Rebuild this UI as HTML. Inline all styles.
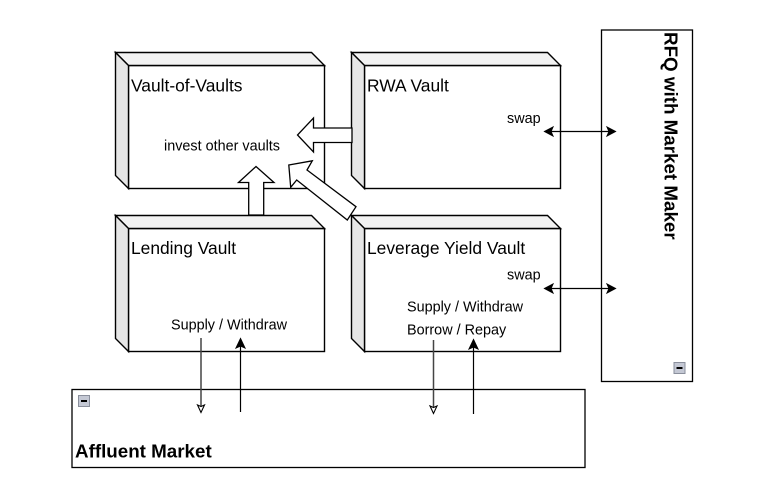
<!DOCTYPE html>
<html><head><meta charset="utf-8">
<style>
html,body{margin:0;padding:0;background:#fff;width:783px;height:491px;overflow:hidden}
svg{display:block}
text{font-family:"Liberation Sans",Arial,sans-serif;fill:#000}
.t{font-size:17.4px}
.s{font-size:14.4px}
.b{font-size:18.8px;font-weight:bold}
</style></head><body>
<svg width="783" height="491" viewBox="0 0 783 491" xmlns="http://www.w3.org/2000/svg">
<defs>
<g id="cube" stroke="#000" stroke-width="1.4" stroke-linejoin="miter">
  <rect x="13" y="13" width="196" height="123" fill="#fff"/>
  <path d="M0 0H196L209 13H13Z" fill="#f2f2f2"/>
  <path d="M0 0L13 13V136L0 123Z" fill="#e6e6e6"/>
</g>
<g id="mini">
  <rect x="0.5" y="0.5" width="11" height="11" fill="#c4c8d4" stroke="#8a8f9c" stroke-width="1"/>
  <rect x="3" y="5" width="6" height="2" fill="#000"/>
</g>
</defs>

<use href="#cube" x="115.5" y="52.5"/>
<use href="#cube" x="351.5" y="52.5"/>
<use href="#cube" x="115.5" y="215.5"/>
<use href="#cube" x="351.5" y="215.5"/>

<rect x="72" y="389.5" width="513" height="78" fill="#fff" stroke="#000" stroke-width="1.3"/>
<rect x="601.5" y="30" width="91" height="351.5" fill="#fff" stroke="#000" stroke-width="1.3"/>
<use href="#mini" x="78" y="395"/>
<use href="#mini" x="673.5" y="362"/>

<g fill="#fff" stroke="#000" stroke-width="1.3" stroke-linejoin="miter">
  <path d="M352 128H313.5V118L297.5 135L313.5 152V142.5H352Z"/>
  <path d="M248.7 215V182.5H238.5L256 166.5L274 182.5H263.7V215Z"/>
  <path d="M288.8 165L312.3 160.8L307 170L356 206.7L347.3 220L296.7 180L290.7 187.3Z"/>
</g>

<g stroke="#000" stroke-width="1.2" fill="none">
  <path d="M201 338V410" stroke="#444" stroke-width="1.5"/>
  <path d="M240.5 412V345"/>
  <path d="M433.5 340V410" stroke="#444" stroke-width="1.5"/>
  <path d="M473.5 414V346"/>
  <path d="M550 131.5H610"/>
  <path d="M550 288.5H610"/>
</g>
<g fill="#000" stroke="#000" stroke-width="1">
  <path d="M240.5 338.5L245 348L240.5 346L236 348Z"/>
  <path d="M473.5 339.5L478 349L473.5 347L469 349Z"/>
  <path d="M544.5 131.5L553 127L551 131.5L553 136Z"/>
  <path d="M615.5 131.5L607 127L609 131.5L607 136Z"/>
  <path d="M544.5 288.5L553 284L551 288.5L553 293Z"/>
  <path d="M615.5 288.5L607 284L609 288.5L607 293Z"/>
</g>
<g fill="#fff" stroke="#000" stroke-width="1.1">
  <path d="M201 412.5L197.5 405L201 406.5L204.5 405Z"/>
  <path d="M433.5 413.5L430 406L433.5 407.5L437 406Z"/>
</g>

<text class="t" x="131" y="91.5">Vault-of-Vaults</text>
<text class="t" x="367" y="91.5">RWA Vault</text>
<text class="t" x="131" y="254">Lending Vault</text>
<text class="t" x="367" y="254">Leverage Yield Vault</text>
<text class="s" x="164" y="150.5">invest other vaults</text>
<text class="s" x="507" y="123">swap</text>
<text class="s" x="507" y="279.5">swap</text>
<text class="s" x="171" y="329.5">Supply / Withdraw</text>
<text class="s" x="407" y="311.5">Supply / Withdraw</text>
<text class="s" x="407" y="334.5">Borrow / Repay</text>
<text class="b" x="75" y="457.5">Affluent Market</text>
<text class="b" transform="translate(664.5,32) rotate(90)" x="0" y="0">RFQ with Market Maker</text>
</svg>
</body></html>
